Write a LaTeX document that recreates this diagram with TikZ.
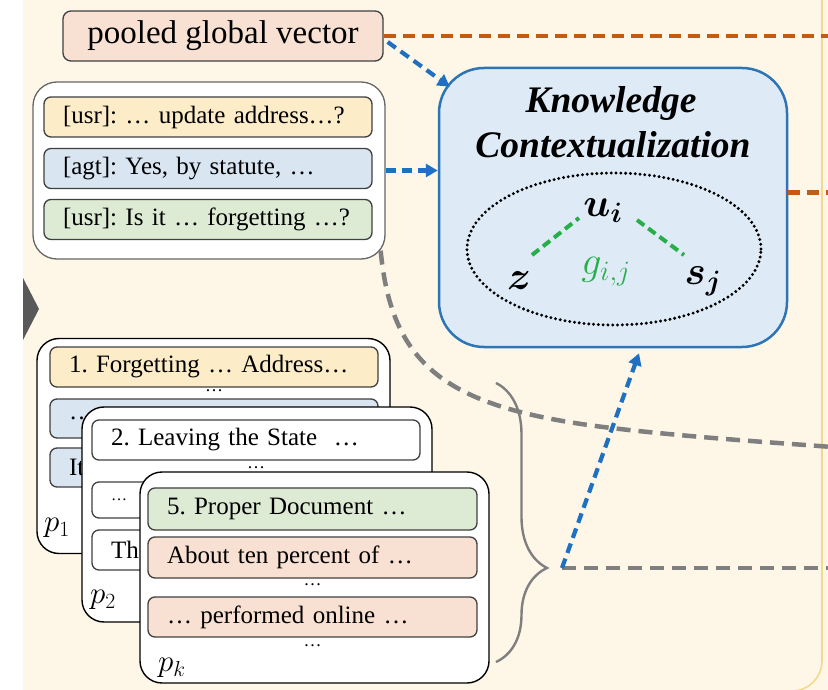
\documentclass[tikz,border=0pt]{standalone}
\usepackage{fix-cm}
\usepackage{amsmath,bm}
\usepackage{fontspec}
\setmainfont{Liberation Serif}
\usetikzlibrary{decorations.pathreplacing,arrows.meta,shapes.geometric}
\definecolor{cream}{HTML}{FEF7E8}
\definecolor{frameyel}{HTML}{F3D98B}
\definecolor{peach}{HTML}{F8E1D2}
\definecolor{lyel}{HTML}{FDECC8}
\definecolor{lblue}{HTML}{DAE5F2}
\definecolor{lgreen}{HTML}{DDEBD5}
\definecolor{kcfill}{HTML}{DEEBF7}
\definecolor{kcdraw}{HTML}{2E75B6}
\definecolor{orangedash}{HTML}{C55A11}
\definecolor{bluedash}{HTML}{1F70C1}
\definecolor{graydash}{HTML}{7F7F7F}
\definecolor{greendash}{HTML}{27AE4A}
\definecolor{boxline}{HTML}{404040}
\definecolor{arrowgray}{HTML}{595959}
\tikzset{
  cardbox/.style={draw=black, line width=1.4pt, fill=white, rounded corners=22pt, inner sep=0pt},
  txtbox/.style={draw=boxline, line width=1.3pt, rounded corners=7pt, inner xsep=19pt, inner ysep=0pt,
    minimum height=40pt, text width=290pt, align=left, font=\fontsize{25}{28}\selectfont},
  sepdots/.style={font=\fontsize{18}{18}\selectfont, inner sep=0pt},
  plabel/.style={font=\fontsize{31}{31}\selectfont, inner sep=0pt},
  mathlab/.style={font=\fontsize{40}{40}\selectfont, inner sep=0pt},
  odash/.style={draw=orangedash, line width=4.5pt, dash pattern=on 12pt off 7pt},
  bdash/.style={draw=bluedash, line width=4.2pt, dash pattern=on 10pt off 6pt, -{Triangle[length=12pt,width=13pt]}},
  gdash/.style={draw=graydash, line width=4.5pt, dash pattern=on 14pt off 8pt},
  grdash/.style={draw=greendash, line width=4pt, dash pattern=on 9pt off 5pt},
}
\begin{document}
\frenchspacing
\begin{tikzpicture}[x=1pt,y=-1pt]
\useasboundingbox (0,0) rectangle (828,690);
\fill[white] (0,0) rectangle (828,690);
\fill[cream] (23,0) rectangle (828,690);
\draw[frameyel, line width=1.6pt, rounded corners=30pt] (822,-10) -- (822,691) -- (740,691);
\fill[arrowgray] (23,278) -- (39,309) -- (23,340) -- cycle;

% pooled global vector
\node[draw=boxline, line width=1.3pt, fill=peach, rounded corners=8pt, minimum width=320pt, minimum height=50pt,
  inner sep=0pt, font=\fontsize{33}{36}\selectfont] (pooled) at (223,36) {pooled global vector};

% dialogue
\node[draw=boxline!80, line width=1.3pt, fill=white, rounded corners=24pt, minimum width=352pt, minimum height=177pt, inner sep=0pt] (dialog) at (209,170.5) {};
\node[txtbox, fill=lyel] (d1) at (208,117) {\mbox{[usr]: … update address…?}};
\node[txtbox, fill=lblue] (d2) at (208,168.5) {\mbox{[agt]: Yes, by statute, …}};
\node[txtbox, fill=lgreen] (d3) at (208,219.5) {\mbox{[usr]: Is it … forgetting …?}};

% knowledge contextualization
\node[draw=kcdraw, line width=2.5pt, fill=kcfill, rounded corners=45pt, minimum width=348pt, minimum height=279pt, inner sep=0pt] (kc) at (613,207.5) {};
\node[font=\fontsize{37.5}{40}\selectfont\bfseries\itshape, inner sep=0pt] (kt1) at (611,103) {Knowledge};
\node[font=\fontsize{37.5}{40}\selectfont\bfseries\itshape, inner sep=0pt] (kt2) at (613,145) {Contextualization};
\node[ellipse, draw=black, line width=3.3pt, dash pattern=on 0pt off 4.8pt, line cap=round, minimum width=294pt, minimum height=152pt, inner sep=0pt] (ell) at (614,249) {};
\node[mathlab] (ui) at (603,211) {$\bm{u}_{\bm{i}}$};
\node[mathlab] (z) at (519,281) {$\bm{z}$};
\node[mathlab] (sj) at (703,281) {$\bm{s}_{\bm{j}}$};
\node[mathlab, text=greendash] (g) at (606,272) {$g_{i,j}$};
\draw[grdash] ([shift={(13pt,26pt)}]z.center) -- ([shift={(-24pt,-7pt)}]ui.center);
\draw[grdash] ([shift={(34pt,-9pt)}]ui.center) -- ([shift={(-19pt,26pt)}]sj.center);

% passage cards
\node[cardbox, minimum width=353pt, minimum height=215pt] (p1card) at (213.5,446) {};
\node[txtbox, fill=lyel] (a1) at (214,367) {1. Forgetting … Address…};
\node[sepdots] (a1dots) at (214,391) {…};
\node[txtbox, fill=lblue, minimum height=39pt] (a2) at (214,418.5) {…};
\node[txtbox, fill=lblue, minimum height=39pt] (a3) at (214,467.5) {It};
\node[plabel] (p1lab) at (57,528) {$p_1$};

\node[cardbox, minimum width=350pt, minimum height=215pt] (p2card) at (257,514.5) {};
\node[txtbox, fill=white] (b1) at (256,440) {2. Leaving the State\ \ …};
\node[sepdots] (b1dots) at (256,468) {…};
\node[txtbox, fill=white, minimum height=36pt, font=\fontsize{16}{18}\selectfont] (b2) at (256,500) {…};
\node[txtbox, fill=white] (b3) at (256,550) {Th};
\node[plabel] (p2lab) at (103,600) {$p_2$};

\node[cardbox, minimum width=349pt, minimum height=211pt] (pkcard) at (314.5,577.5) {};
\node[txtbox, fill=lgreen, text width=291pt, minimum height=42pt] (c1) at (312.5,509) {5. Proper Document …};
\node[txtbox, fill=peach, text width=291pt, minimum height=41pt] (c2) at (312.5,557.5) {About ten percent of …};
\node[sepdots] (c2dots) at (312.5,585) {…};
\node[txtbox, fill=peach, text width=291pt] (c3) at (312.5,617) {… performed online …};
\node[sepdots] (c3dots) at (312.5,646) {…};
\node[plabel] (pklab) at (172,668) {$p_k$};

% brace and hub
\coordinate (bt) at (496,383);
\coordinate (bb) at (496,662);
\coordinate (hub) at (562,568);
\coordinate (rightedge) at (832,0);
\draw[graydash, line width=2.4pt, decorate, decoration={brace, amplitude=51pt, aspect=0.663}] (bt) -- (bb);

% connectors
\draw[odash] (pooled.east) -- (pooled.east -| rightedge);
\draw[odash] ([yshift=15pt]kc.east) -- ([yshift=15pt]kc.east -| rightedge);
\draw[gdash] ([shift={(-5pt,9pt)}]dialog.south east) .. controls (392,370) and (450,410) .. (620,429)
  .. controls (700,438) and (780,443) .. (832,447);
\draw[gdash] (hub) -- (hub -| rightedge);
\draw[bdash] ([shift={(4pt,-6pt)}]pooled.east) -- ([shift={(12pt,-20pt)}]kc.north west);
\draw[bdash] (dialog.east) -- (dialog.east -| kc.west);
\draw[bdash] (hub) -- ([shift={(26pt,-5pt)}]kc.south);
\end{tikzpicture}
\end{document}
